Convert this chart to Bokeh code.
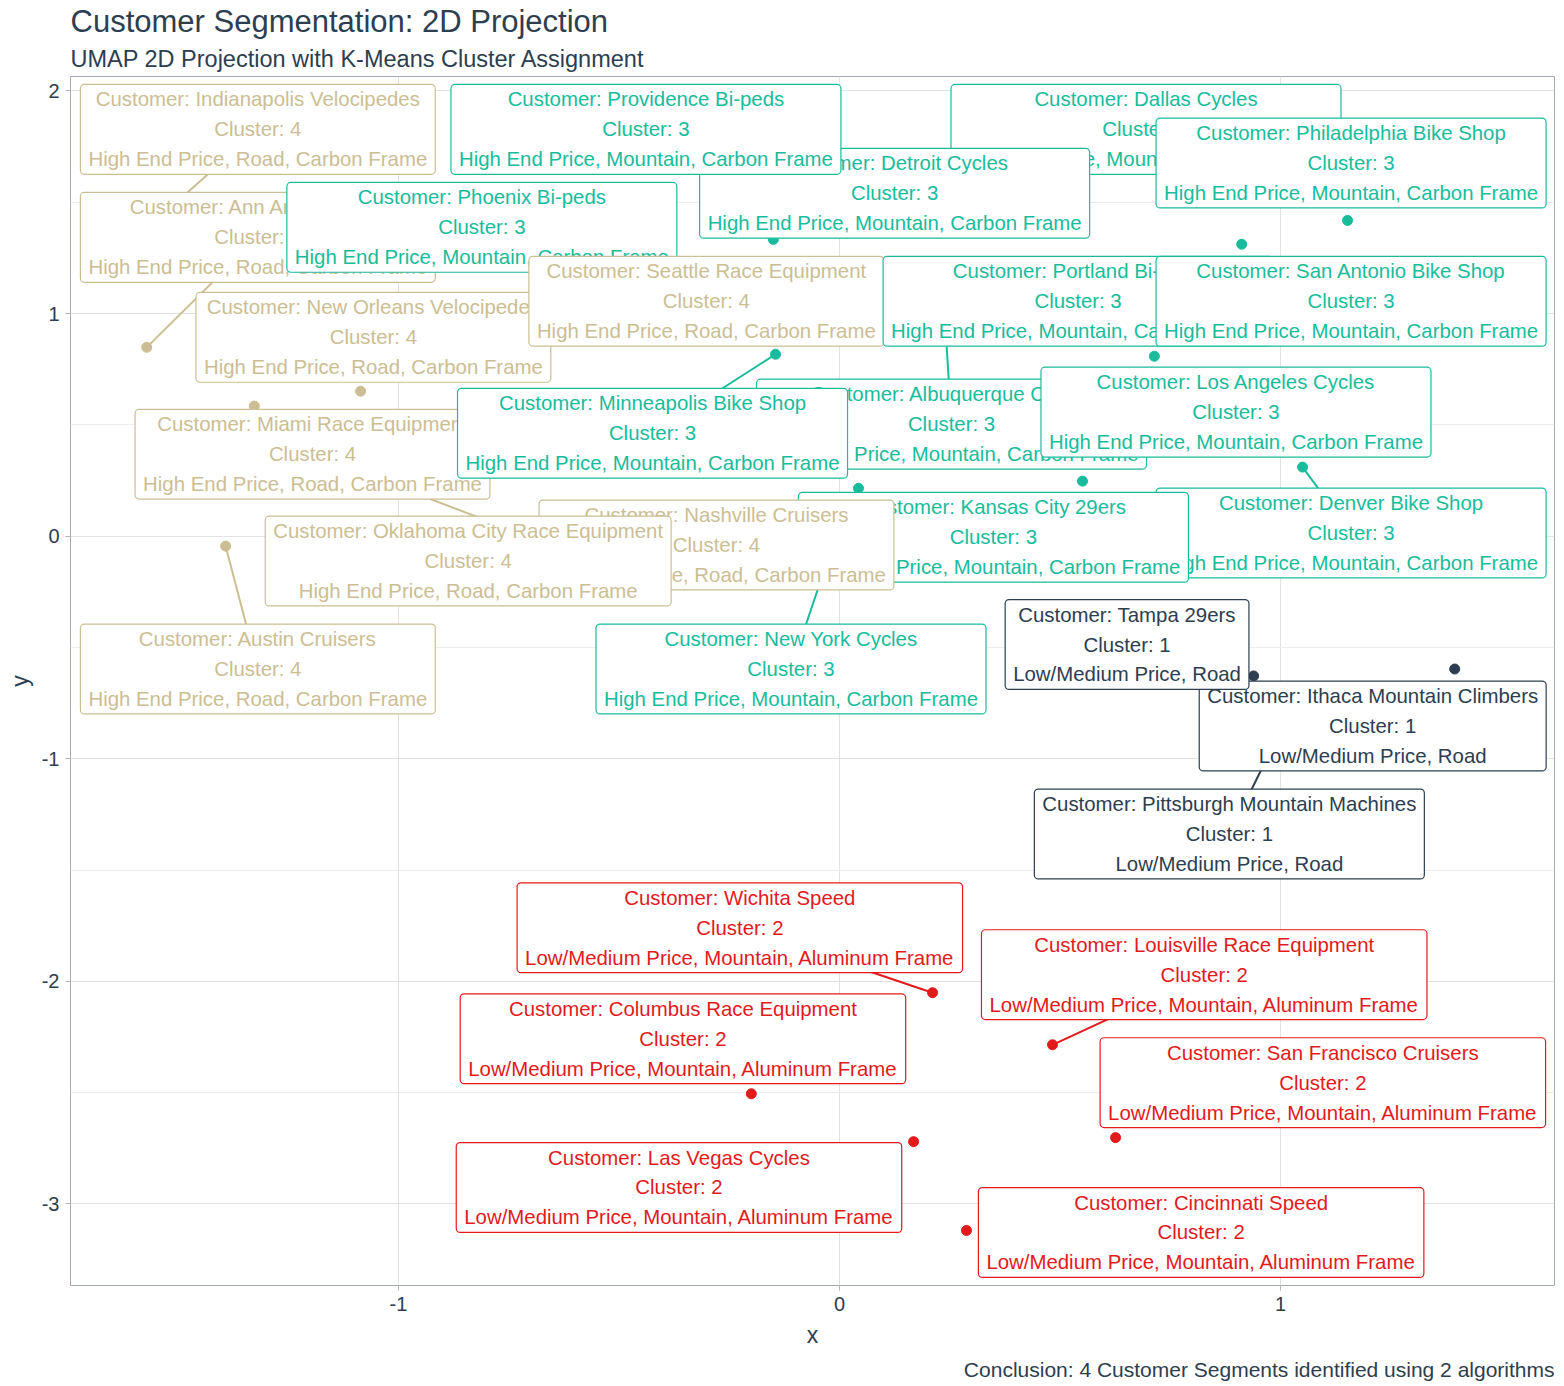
from bokeh.plotting import figure
from bokeh.models import Range1d, FixedTicker, Title, ColumnDataSource, CustomJSTickFormatter
from bokeh.embed import file_html
from bokeh.resources import INLINE
from bokeh.core.properties import value

# ---- data (listed in label drawing order) ----
customers = [
    "Ann Arbor Speed", "Indianapolis Velocipedes", "Phoenix Bi-peds", "New Orleans Velocipedes",
    "Seattle Race Equipment", "Dallas Cycles", "Detroit Cycles", "Providence Bi-peds",
    "Philadelphia Bike Shop", "Albuquerque Cycles", "Portland Bi-peds", "San Antonio Bike Shop",
    "Los Angeles Cycles", "Miami Race Equipment", "Minneapolis Bike Shop", "Denver Bike Shop",
    "Kansas City 29ers", "Nashville Cruisers", "Oklahoma City Race Equipment", "Austin Cruisers",
    "New York Cycles", "Ithaca Mountain Climbers", "Tampa 29ers", "Pittsburgh Mountain Machines",
    "Wichita Speed", "Louisville Race Equipment", "Columbus Race Equipment",
    "San Francisco Cruisers", "Las Vegas Cycles", "Cincinnati Speed",
]
clusters = [4, 4, 3, 4, 4, 3, 3, 3, 3, 3, 3, 3, 3, 4, 3, 3, 3, 4, 4, 4, 3, 1, 1, 1, 2, 2, 2, 2, 2, 2]

# UMAP coordinates of each customer
point_x = [-1.571, -1.524, -0.542, -1.086, -0.406, 0.819, 0.025, -0.150, 1.152, 0.238,
           0.714, 0.912, 0.551, -0.678, -0.145, 1.050, 0.043, -0.497, -1.327, -1.392,
           -0.020, 1.395, 0.939, 0.989, 0.211, 0.483, -0.200, 0.626, 0.168, 0.288]
point_y = [0.848, 1.463, 1.055, 0.651, 0.965, 1.728, 1.436, 1.333, 1.418, 1.010,
           0.808, 1.311, 0.247, -0.022, 0.817, 0.310, 0.215, -0.112, 0.584, -0.045,
           -0.067, -0.597, -0.628, -0.920, -2.051, -2.285, -2.505, -2.702, -2.720, -3.119]

# repelled label centres
label_x = [-1.319, -1.319, -0.811, -1.057, -0.302, 0.695, 0.125, -0.439, 1.160, 0.254,
           0.541, 1.160, 0.899, -1.195, -0.424, 1.160, 0.349, -0.279, -0.842, -1.319,
           -0.110, 1.209, 0.652, 0.884, -0.226, 0.827, -0.355, 1.096, -0.364, 0.820]
label_y = [1.342, 1.827, 1.387, 0.893, 1.055, 1.827, 1.540, 1.827, 1.676, 0.503,
           1.055, 1.055, 0.557, 0.368, 0.462, 0.014, -0.005, -0.040, -0.112, -0.597,
           -0.597, -0.853, -0.487, -1.338, -1.759, -1.970, -2.258, -2.455, -2.926, -3.128]
draw_link = [True, True, False, False, False, False, False, False, False, True,
             False, False, False, True, True, True, False, False, False, True,
             True, False, False, True, True, True, False, False, False, False]

cluster_desc = {
    1: "Low/Medium Price, Road",
    2: "Low/Medium Price, Mountain, Aluminum Frame",
    3: "High End Price, Mountain, Carbon Frame",
    4: "High End Price, Road, Carbon Frame",
}
cluster_colors = {1: "#2C3E50", 2: "#E31A1C", 3: "#18BC9C", 4: "#CCBE93"}

x_ticks = [-1, 0, 1]
y_ticks = [-3, -2, -1, 0, 1, 2]

FONT = "Liberation Sans"
DARK = "#2c3e50"

colors = [cluster_colors[c] for c in clusters]
labels = [f"Customer: {n}\nCluster: {c}\n{cluster_desc[c]}" for n, c in zip(customers, clusters)]

p = figure(width=1564, height=1386,
           x_range=Range1d(-1.7438, 1.6213), y_range=Range1d(-3.3662, 2.0646),
           output_backend="svg", toolbar_location=None, title=None,
           min_border_left=70, min_border_right=10, min_border_top=75, min_border_bottom=101)
p.background_fill_color = "white"
p.border_fill_color = "white"
p.outline_line_color = "#a4abb5"
p.outline_line_width = 1

sub = Title(text="UMAP 2D Projection with K-Means Cluster Assignment", text_font=FONT,
            text_font_size="23.5px", text_font_style="normal", text_color=DARK, standoff=9)
main = Title(text="Customer Segmentation: 2D Projection", text_font=FONT,
             text_font_size="31px", text_font_style="normal", text_color=DARK, standoff=2)
p.add_layout(sub, "above")
p.add_layout(main, "above")

cap = Title(text="Conclusion: 4 Customer Segments identified using 2 algorithms", align="right",
            text_font=FONT, text_font_size="21px", text_font_style="normal", text_color=DARK)
p.add_layout(cap, "below")

p.xaxis.ticker = FixedTicker(ticks=x_ticks, minor_ticks=[])
p.yaxis.ticker = FixedTicker(ticks=y_ticks, minor_ticks=[-3.5, -2.5, -1.5, -0.5, 0.5, 1.5])
p.xaxis.axis_label = "x"
p.yaxis.axis_label = "y"
for ax in (p.xaxis, p.yaxis):
    ax.formatter = CustomJSTickFormatter(code="return tick.toString();")
    ax.axis_line_color = None
    ax.major_tick_line_color = "#b5b5b5"
    ax.major_tick_out = 5
    ax.major_tick_in = 0
    ax.minor_tick_line_color = None
    ax.major_label_text_font = FONT
    ax.major_label_text_font_size = "20px"
    ax.major_label_text_color = DARK
    ax.axis_label_text_font = FONT
    ax.axis_label_text_font_size = "23px"
    ax.axis_label_text_font_style = "normal"
    ax.axis_label_text_color = DARK
    ax.major_label_standoff = 6
    ax.axis_label_standoff = 8
p.yaxis.major_label_orientation = "horizontal"
p.yaxis.axis_label_standoff = 6

p.grid.grid_line_color = "#e2e2e2"
p.xgrid.minor_grid_line_color = None
p.ygrid.minor_grid_line_color = "#ececec"

# points
p.scatter(point_x, point_y, size=10, color=colors)

# connector segments (behind all labels)
seg = ColumnDataSource(dict(
    x0=[x for x, f in zip(point_x, draw_link) if f],
    y0=[y for y, f in zip(point_y, draw_link) if f],
    x1=[x for x, f in zip(label_x, draw_link) if f],
    y1=[y for y, f in zip(label_y, draw_link) if f],
    c=[c for c, f in zip(colors, draw_link) if f],
))
p.segment("x0", "y0", "x1", "y1", source=seg, line_color="c", line_width=2)

# labels, in drawing order
for lx, ly, txt, c in zip(label_x, label_y, labels, colors):
    p.text(x=[lx], y=[ly], text=[txt], text_font=value(FONT), text_font_size="20.4px",
           text_color=c, text_align="center", text_baseline="middle", text_line_height=1.36,
           background_fill_color="white", border_line_color=c, border_line_width=1.2,
           border_radius=4, padding=dict(left=8, right=8, top=4, bottom=4))

open("out.html", "w").write(file_html(p, INLINE))
